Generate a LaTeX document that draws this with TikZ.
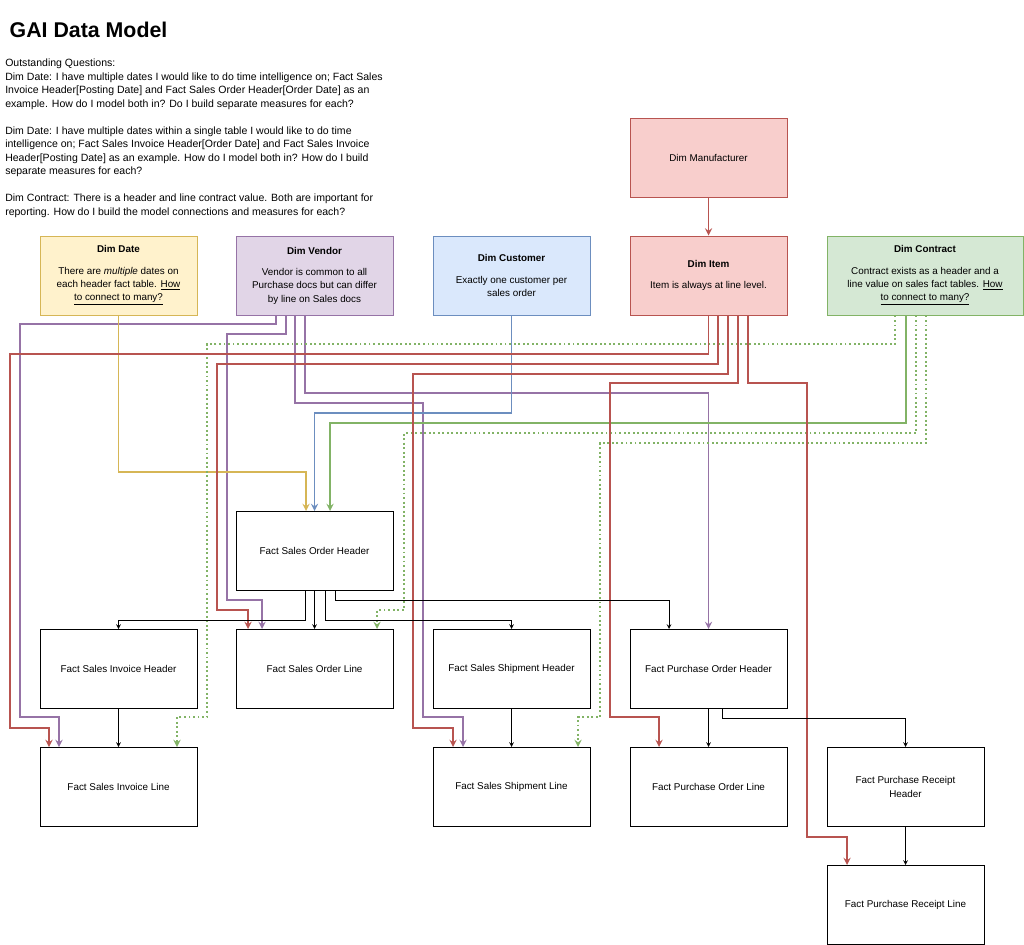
\documentclass[tikz,border=0pt]{standalone}
\usepackage{fontspec}
\setmainfont{Liberation Sans}
\usetikzlibrary{arrows,calc}
\definecolor{datefill}{HTML}{FFF2CC}\definecolor{dateline}{HTML}{D6B656}
\definecolor{vendfill}{HTML}{E1D5E7}\definecolor{vendline}{HTML}{9673A6}
\definecolor{custfill}{HTML}{DAE8FC}\definecolor{custline}{HTML}{6C8EBF}
\definecolor{itemfill}{HTML}{F8CECC}\definecolor{itemline}{HTML}{B85450}
\definecolor{contfill}{HTML}{D5E8D4}\definecolor{contline}{HTML}{82B366}
\tikzset{
  box/.style={draw, line width=0.75pt, minimum width=117.75pt, minimum height=59.25pt,
    inner sep=1pt, align=center, font=\fontsize{7.4}{10}\selectfont},
  dim/.style={box, fill=#1fill, draw=#1line},
  link/.style={line width=1.4pt, -stealth, draw=#1line},
  flow/.style={line width=0.6pt, -stealth}
}
\begin{document}
\begin{tikzpicture}[x=0.75pt, y=-0.75pt]
  \useasboundingbox (0,0) rectangle (1024,945);

  \node[anchor=west, font=\bfseries\fontsize{16}{18}\selectfont] (title) at (5,30) {GAI Data Model};
  \node[anchor=north west, inner sep=0pt, align=left, font=\fontsize{7.9}{10.1}\selectfont] (questions) at (5,59)
    {Outstanding Questions:\\
     Dim Date: I have multiple dates I would like to do time intelligence on; Fact Sales\\
     Invoice Header[Posting Date] and Fact Sales Order Header[Order Date] as an\\
     example. How do I model both in? Do I build separate measures for each?\\[10.1pt]
     Dim Date: I have multiple dates within a single table I would like to do time\\
     intelligence on; Fact Sales Invoice Header[Order Date] and Fact Sales Invoice\\
     Header[Posting Date] as an example. How do I model both in? How do I build\\
     separate measures for each?\\[10.1pt]
     Dim Contract: There is a header and line contract value. Both are important for\\
     reporting. How do I build the model connections and measures for each?};

  % dimensions
  \node[dim=item] (manu) at (708.5,158) {Dim Manufacturer};
  \node[dim=date] (date) at (118.5,275.5) {\textbf{Dim Date}\\[6pt]There are \textit{multiple} dates on\\each header fact table. \underline{How}\\\underline{to connect to many?}};
  \node[dim=vend] (vendor) at (314.5,275.5) {\textbf{Dim Vendor}\\[6pt]Vendor is common to all\\Purchase docs but can differ\\by line on Sales docs};
  \node[dim=cust] (customer) at (511.5,275.5) {\textbf{Dim Customer}\\[6pt]Exactly one customer per\\sales order};
  \node[dim=item] (item) at (708.5,275.5) {\textbf{Dim Item}\\[6pt]Item is always at line level.};
  \node[dim=cont, minimum width=147pt] (contract) at (925,275.5) {\textbf{Dim Contract}\\[6pt]Contract exists as a header and a\\line value on sales fact tables. \underline{How}\\\underline{to connect to many?}};

  % facts
  \node[box] (fsoh) at (314.5,551) {Fact Sales Order Header};
  \node[box] (fsih) at (118.5,669) {Fact Sales Invoice Header};
  \node[box] (fsol) at (314.5,669) {Fact Sales Order Line};
  \node[box] (fssh) at (511.5,669) {Fact Sales Shipment Header};
  \node[box] (fpoh) at (708.5,669) {Fact Purchase Order Header};
  \node[box] (fsil) at (118.5,787) {Fact Sales Invoice Line};
  \node[box] (fssl) at (511.5,787) {Fact Sales Shipment Line};
  \node[box] (fpol) at (708.5,787) {Fact Purchase Order Line};
  \node[box] (fprh) at (905.5,787) {Fact Purchase Receipt\\Header};
  \node[box] (fprl) at (905.5,905) {Fact Purchase Receipt Line};

  % vendor links
  \draw[link=vend] ($(vendor.south)+(-38.5,0)$) |- (20,324) |- (59,717) -- ($(fsil.north)+(-59.5,0)$);
  \draw[link=vend] ($(vendor.south)+(-28.5,0)$) |- (227,334) |- (262,600) -- ($(fsol.north)+(-52.5,0)$);
  \draw[link=vend] ($(vendor.south)+(-19.5,0)$) |- (423,403) |- (463,717) -- ($(fssl.north)+(-48.5,0)$);
  \draw[link=vend] ($(vendor.south)+(-9.5,0)$) |- (708.5,393) -- (fpoh.north);

  % date, customer, contract links
  \draw[link=date] (date.south) |- (306,472) -- ($(fsoh.north)+(-8.5,0)$);
  \draw[link=cust] (customer.south) |- (314.5,413) -- (fsoh.north);
  \draw[link=cont] ($(contract.south)+(-19,0)$) |- (330,423) -- ($(fsoh.north)+(15.5,0)$);
  \draw[link=cont, dotted] ($(contract.south)+(-30,0)$) |- (207,344) |- (177,717) -- ($(fsil.north)+(58.5,0)$);
  \draw[link=cont, dotted] ($(contract.south)+(-9,0)$) |- (404,433) |- (377,610) -- ($(fsol.north)+(62.5,0)$);
  \draw[link=cont, dotted] ($(contract.south)+(1,0)$) |- (600,443) |- (578,717) -- ($(fssl.north)+(66.5,0)$);

  % item links
  \draw[link=item] (manu) -- (item);
  \draw[link=item] (item.south) |- (10,354) |- (49,728) -- ($(fsil.north)+(-69.5,0)$);
  \draw[link=item] ($(item.south)+(9.5,0)$) |- (217,364) |- (248,610) -- ($(fsol.north)+(-66.5,0)$);
  \draw[link=item] ($(item.south)+(19.5,0)$) |- (413,374) |- (453,728) -- ($(fssl.north)+(-58.5,0)$);
  \draw[link=item] ($(item.south)+(29.5,0)$) |- (610,383) |- (659,717) -- ($(fpol.north)+(-49.5,0)$);
  \draw[link=item] ($(item.south)+(39.5,0)$) |- (807,383) |- (847,837) -- ($(fprl.north)+(-58.5,0)$);

  % header to line
  \draw[flow] ($(fsoh.south)+(-9.5,0)$) |- (118.5,620) -- (fsih.north);
  \draw[flow] (fsoh) -- (fsol);
  \draw[flow] ($(fsoh.south)+(10.5,0)$) |- (511.5,620) -- (fssh.north);
  \draw[flow] ($(fsoh.south)+(20.5,0)$) |- (669,600) -- ($(fpoh.north)+(-39.5,0)$);
  \draw[flow] (fsih) -- (fsil);
  \draw[flow] (fssh) -- (fssl);
  \draw[flow] (fpoh) -- (fpol);
  \draw[flow] ($(fpoh.south)+(13.5,0)$) |- (905.5,718) -- (fprh.north);
  \draw[flow] (fprh) -- (fprl);
\end{tikzpicture}
\end{document}
